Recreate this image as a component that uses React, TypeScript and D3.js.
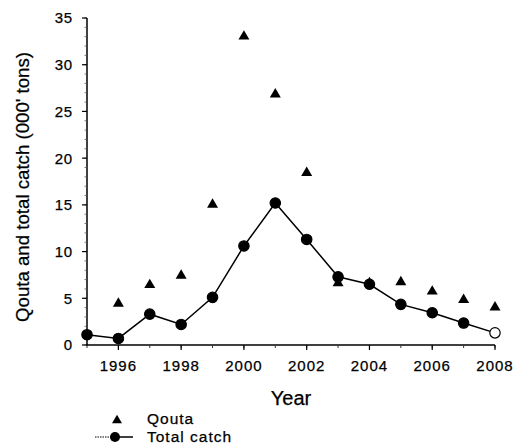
import React from "react";
import * as d3 from "d3";

const years = [1995, 1996, 1997, 1998, 1999, 2000, 2001, 2002, 2003, 2004, 2005, 2006, 2007, 2008];
const totalCatch = [1.1, 0.7, 3.3, 2.2, 5.1, 10.6, 15.2, 11.3, 7.3, 6.5, 4.35, 3.45, 2.35, 1.3];
const quotaYears = [1996, 1997, 1998, 1999, 2000, 2001, 2002, 2003, 2004, 2005, 2006, 2007, 2008];
const quota = [4.6, 6.6, 7.6, 15.2, 33.2, 27.0, 18.6, 6.8, 6.8, 6.9, 5.9, 5.0, 4.2];
const yTicks = [0, 5, 10, 15, 20, 25, 30, 35];
const xTicks = [1996, 1998, 2000, 2002, 2004, 2006, 2008];

const W = 516;
const H = 445;
const font = "Arial, 'Liberation Sans', Helvetica, sans-serif";

function tri(cx: number, cy: number, s: number) {
  const h = s * 0.85;
  return `M${cx},${cy - h / 2}L${cx + s / 2},${cy + h / 2}L${cx - s / 2},${cy + h / 2}Z`;
}

export default function App() {
  const x = d3.scaleLinear().domain([1995, 2008]).range([87, 495]);
  const y = d3.scaleLinear().domain([0, 35]).range([345, 18]);
  const line = d3
    .line<number>()
    .x((_, i) => x(years[i]))
    .y((d) => y(d));
  const minorY = d3.range(0, 35.01, 1);
  const minorX = d3.range(1995, 2008.01, 1);
  const x0 = x(1995);
  const y0 = y(0);
  const textStroke = { stroke: "#000", strokeWidth: 0.25 };
  return (
    <svg width={W} height={H} style={{ position: "absolute", left: 0, top: 0, background: "#fff" }}>
      <rect x={0} y={0} width={W} height={H} fill="#fff" />
      {/* axes */}
      <line x1={x0} y1={y(35)} x2={x0} y2={y0 + 1} stroke="#000" strokeWidth={1.5} />
      <line x1={x0 - 1} y1={y0} x2={x(2008)} y2={y0} stroke="#000" strokeWidth={1.5} />
      {minorY.map((v) => (
        <line key={"my" + v} x1={x0 - 2.5} x2={x0} y1={y(v)} y2={y(v)} stroke="#555" strokeWidth={0.8} />
      ))}
      {yTicks.map((v) => (
        <g key={"yt" + v}>
          <line x1={x0 - 5} x2={x0} y1={y(v)} y2={y(v)} stroke="#000" strokeWidth={1.2} />
          <text x={x0 - 14} y={y(v)} dy="0.36em" textAnchor="end" fontSize={15} fontFamily={font} letterSpacing={0.8} {...textStroke}>
            {v}
          </text>
        </g>
      ))}
      {minorX.map((v) => (
        <line key={"mx" + v} x1={x(v)} x2={x(v)} y1={y0} y2={y0 + 3} stroke="#333" strokeWidth={1} />
      ))}
      {xTicks.map((v) => (
        <g key={"xt" + v}>
          <line x1={x(v)} x2={x(v)} y1={y0} y2={y0 + 5} stroke="#000" strokeWidth={1.2} />
          <text x={x(v)} y={371} textAnchor="middle" fontSize={15} fontFamily={font} letterSpacing={1} {...textStroke}>
            {v}
          </text>
        </g>
      ))}
      {/* axis titles */}
      <text x={291} y={405} textAnchor="middle" fontSize={20} fontFamily={font} {...textStroke}>
        Year
      </text>
      <text
        transform={`translate(29,187) rotate(-90)`}
        textAnchor="middle"
        fontSize={18}
        fontFamily={font}
        textLength={270}
        lengthAdjust="spacingAndGlyphs"
        {...textStroke}
      >
        Qouta and total catch (000' tons)
      </text>
      {/* quota triangles */}
      {quota.map((v, i) => (
        <path key={"q" + i} d={tri(x(quotaYears[i]), y(v), 11)} fill="#000" />
      ))}
      {/* total catch line */}
      <path d={line(totalCatch) || ""} fill="none" stroke="#000" strokeWidth={1.5} />
      {totalCatch.map((v, i) => (
        <circle
          key={"c" + i}
          cx={x(years[i])}
          cy={y(v)}
          r={5.2}
          fill={i === totalCatch.length - 1 ? "#fff" : "#000"}
          stroke="#000"
          strokeWidth={1.2}
        />
      ))}
      {/* legend */}
      <path d={tri(117, 419, 10)} fill="#000" />
      <text x={147} y={424} fontSize={15.5} fontFamily={font} letterSpacing={1} {...textStroke}>
        Qouta
      </text>
      <line x1={95} x2={110} y1={437} y2={437} stroke="#000" strokeWidth={1.2} strokeDasharray="1.5,1" />
      <line x1={110} x2={133} y1={437} y2={437} stroke="#000" strokeWidth={1.5} />
      <circle cx={115} cy={437} r={5} fill="#000" />
      <text x={147} y={442} fontSize={15.5} fontFamily={font} letterSpacing={1} {...textStroke}>
        Total catch
      </text>
    </svg>
  );
}
